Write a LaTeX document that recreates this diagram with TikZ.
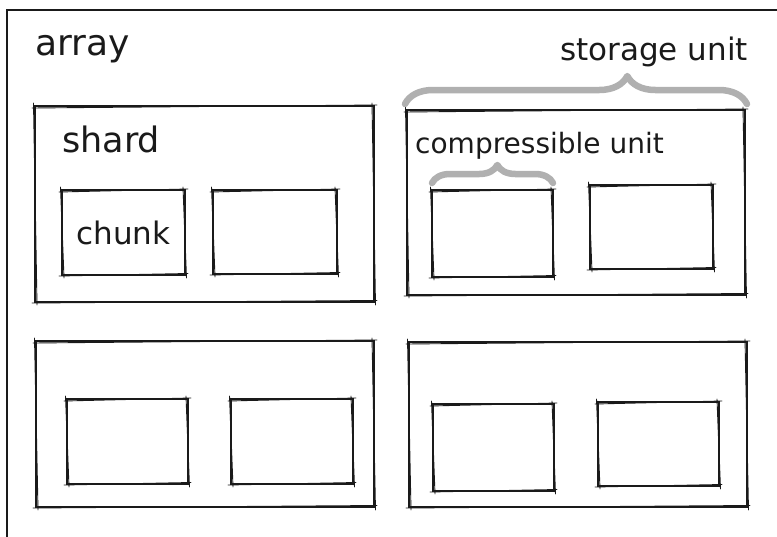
\documentclass[tikz,border=0pt]{standalone}
\usepackage{fontspec}
\setmainfont{DejaVu Sans}
\usetikzlibrary{decorations.pathreplacing}
\definecolor{ink}{HTML}{1A1A1A}
\definecolor{bracegray}{HTML}{B0B0B0}
\tikzset{
  box/.style={draw=ink, line width=1.9pt, inner sep=0pt, outer sep=0pt, text=ink},
  rough/.style={draw=ink, line width=0.9pt, line cap=round},
  lbl/.style={anchor=base west, inner sep=0pt, text=ink},
  gbrace/.style={draw=bracegray, line width=6.5pt, line cap=round, line join=round,
    decorate, decoration={brace, amplitude=#1}},
}
\newcommand\skbox[6]{%
  \node[box, minimum width={(#4-#2)*1pt}, minimum height={(#5-#3)*1pt}] (#1) at ({(#2+#4)/2},{(#3+#5)/2}) {#6};
  \draw[rough] ([shift={(-3,2)}]#1.north west) -- ([shift={(3,-1)}]#1.north east)
               ([shift={(-2,-3)}]#1.north east) -- ([shift={(1.5,3)}]#1.south east)
               ([shift={(3,-1.5)}]#1.south east) -- ([shift={(-3,1)}]#1.south west)
               ([shift={(2,3)}]#1.south west) -- ([shift={(-1.5,-3)}]#1.north west);%
}
\begin{document}
\begin{tikzpicture}[x=1pt, y=-1pt]
  \clip (0,0) rectangle (777,536);
  \fill[white] (0,0) rectangle (777,536);
  % outer array
  \node[box, line width=2.2pt, minimum width=800pt, minimum height=560pt] (array) at (407,290) {};
  \node[lbl, font=\fontsize{36}{40}\selectfont] (arraylbl) at (35,55) {array};
  % top row
  \skbox{shard}{35}{106}{374}{302}{}
  \node[lbl, font=\fontsize{35}{40}\selectfont] (shardlbl) at (62,152) {shard};
  \skbox{c1}{62}{190}{185}{275}{\fontsize{31}{36}\selectfont chunk}
  \skbox{c2}{213}{190}{337}{274}{}
  \skbox{su}{407}{110}{745}{295}{}
  \node[lbl, font=\fontsize{28}{32}\selectfont] (cu) at (415,153) {compressible unit};
  \node[lbl, font=\fontsize{31}{36}\selectfont] (sulbl) at (560,60) {storage unit};
  \skbox{c3}{432}{190}{553}{277}{}
  \skbox{c4}{590}{185}{713}{269}{}
  % bottom row
  \skbox{bl}{36}{341}{374}{507}{}
  \skbox{c5}{67}{399}{188}{484}{}
  \skbox{c6}{231}{399}{353}{484}{}
  \skbox{br}{409}{342}{747}{507}{}
  \skbox{c7}{433}{404}{554}{491}{}
  \skbox{c8}{598}{402}{719}{486}{}
  % braces
  \coordinate (sb1) at ([shift={(-2,-6)}]su.north west);
  \coordinate (sb2) at ([shift={(2,-6)}]su.north east);
  \draw[gbrace=28pt, decoration={aspect=0.65}] (sb1) -- (sb2);
  \coordinate (cb1) at ([shift={(0,-7)}]c3.north west);
  \coordinate (cb2) at ([shift={(0,-7)}]c3.north east);
  \draw[gbrace=18pt, decoration={aspect=0.54}] (cb1) -- (cb2);
\end{tikzpicture}
\end{document}
